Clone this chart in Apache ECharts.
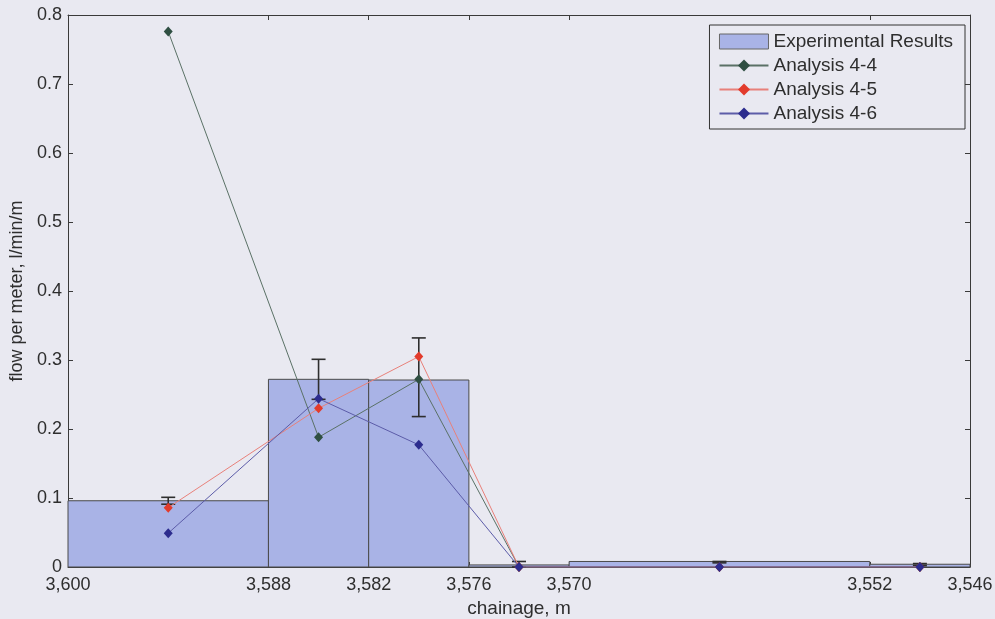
<!DOCTYPE html>
<html>
<head>
<meta charset="utf-8">
<script src="https://cdn.jsdelivr.net/npm/echarts@6/dist/echarts.min.js"></script>
<style>
html,body{margin:0;padding:0;background:#e9e9f1;}
#chart{width:995px;height:619px;}
</style>
</head>
<body>
<div id="chart"></div>
<script>
// ---- data ----
var binEdges = [3600, 3588, 3582, 3576, 3570, 3552, 3546];
var expValues = [0.096, 0.272, 0.271, 0.003, 0.008, 0.004];
var midPoints = [3594, 3585, 3579, 3573, 3561, 3549];
var errLow = [0.091, 0.243, 0.218, 0.000, 0.006, 0.002];
var errHigh = [0.101, 0.301, 0.332, 0.008, 0.008, 0.005];
var analysis44 = [0.776, 0.188, 0.272, 0, 0, 0];
var analysis45 = [0.086, 0.230, 0.305, 0, 0, 0];
var analysis46 = [0.049, 0.244, 0.177, 0, 0, 0];
var xTickValues = [3600, 3588, 3582, 3576, 3570, 3552, 3546];
var seriesNames = ['Experimental Results', 'Analysis 4-4', 'Analysis 4-5', 'Analysis 4-6'];

// ---- build ----
var barData = [];
for (var i = 0; i < expValues.length; i++) {
  barData.push([binEdges[i], binEdges[i + 1], expValues[i]]);
}
var errData = [];
for (var j = 0; j < midPoints.length; j++) {
  errData.push([midPoints[j], errLow[j], errHigh[j]]);
}
function pairs(vals) {
  return midPoints.map(function (m, k) { return [m, vals[k]]; });
}

var textColor = '#2e2e2e';
var fontFam = '"Liberation Sans", Arial, sans-serif';
var barFill = '#a9b3e6';

var chart = echarts.init(document.getElementById('chart'), null, {renderer: 'canvas'});

var xBase = {
  type: 'value', min: 3546, max: 3600, inverse: true,
  splitLine: {show: false},
  axisLine: {show: true, onZero: false, lineStyle: {color: '#3a3a3a', width: 1}}
};
var yBase = {
  type: 'value', min: 0, max: 0.8, interval: 0.1,
  splitLine: {show: false},
  axisLine: {show: true, lineStyle: {color: '#3a3a3a', width: 1}}
};

var option = {
  backgroundColor: '#e9e9f1',
  animation: false,
  textStyle: {fontFamily: fontFam},
  grid: {left: 68, right: 25, top: 15, bottom: 52, containLabel: false, outerBoundsMode: 'none'},
  legend: {
    orient: 'vertical',
    right: 30, top: 25,
    backgroundColor: '#e9e9f1',
    borderColor: '#333', borderWidth: 1, borderRadius: 0,
    padding: [7, 12, 6, 9],
    itemWidth: 49, itemHeight: 15, itemGap: 5,
    textStyle: {fontSize: 19, lineHeight: 18, color: textColor, fontFamily: fontFam},
    data: [
      {name: seriesNames[0], icon: 'rect', itemStyle: {color: barFill, borderColor: '#666', borderWidth: 1}},
      {name: seriesNames[1]},
      {name: seriesNames[2]},
      {name: seriesNames[3]}
    ]
  },
  xAxis: [
    Object.assign({}, xBase, {
      position: 'bottom',
      name: 'chainage, m', nameLocation: 'middle', nameGap: 31,
      nameTextStyle: {fontSize: 19, color: textColor, fontFamily: fontFam},
      axisTick: {show: true, inside: true, length: 5, customValues: xTickValues, lineStyle: {color: '#3a3a3a'}},
      axisLabel: {
        show: true, margin: 9, fontSize: 18, color: textColor, fontFamily: fontFam,
        customValues: xTickValues,
        formatter: function (v) { return v.toLocaleString('en-US'); }
      }
    }),
    Object.assign({}, xBase, {
      position: 'top',
      axisTick: {show: true, inside: true, length: 5, customValues: xTickValues, lineStyle: {color: '#3a3a3a'}},
      axisLabel: {show: false}
    })
  ],
  yAxis: [
    Object.assign({}, yBase, {
      position: 'left',
      name: 'flow per meter, l/min/m', nameLocation: 'middle', nameGap: 40,
      nameTextStyle: {fontSize: 18, color: textColor, fontFamily: fontFam},
      axisTick: {show: true, inside: true, length: 5, lineStyle: {color: '#3a3a3a'}},
      axisLabel: {show: true, margin: 6, fontSize: 18, color: textColor, fontFamily: fontFam,
        formatter: function (v) { return v === 0 ? '0' : String(Math.round(v * 10) / 10); }}
    }),
    Object.assign({}, yBase, {
      position: 'right',
      axisTick: {show: true, inside: true, length: 5, lineStyle: {color: '#3a3a3a'}},
      axisLabel: {show: false}
    })
  ],
  series: [
    {
      name: seriesNames[0],
      type: 'custom',
      xAxisIndex: 0, yAxisIndex: 0,
      z: 1,
      itemStyle: {color: barFill, borderColor: '#555'},
      encode: {x: [0, 1], y: 2},
      data: barData,
      renderItem: function (params, api) {
        var p0 = api.coord([api.value(0), api.value(2)]);
        var p1 = api.coord([api.value(1), 0]);
        return {
          type: 'rect',
          shape: {x: Math.min(p0[0], p1[0]), y: p0[1], width: Math.abs(p1[0] - p0[0]), height: p1[1] - p0[1]},
          style: {fill: barFill, stroke: '#4a4a4a', lineWidth: 1}
        };
      }
    },
    {
      name: 'errorbars',
      type: 'custom',
      xAxisIndex: 0, yAxisIndex: 0,
      z: 3,
      encode: {x: 0, y: [1, 2]},
      data: errData,
      renderItem: function (params, api) {
        var x = api.value(0);
        var lo = api.coord([x, api.value(1)]);
        var hi = api.coord([x, api.value(2)]);
        var hw = 7;
        var st = {stroke: '#2e2e2e', lineWidth: 1.6};
        return {
          type: 'group',
          children: [
            {type: 'line', shape: {x1: lo[0], y1: lo[1], x2: hi[0], y2: hi[1]}, style: st},
            {type: 'line', shape: {x1: lo[0] - hw, y1: lo[1], x2: lo[0] + hw, y2: lo[1]}, style: st},
            {type: 'line', shape: {x1: hi[0] - hw, y1: hi[1], x2: hi[0] + hw, y2: hi[1]}, style: st}
          ]
        };
      }
    },
    {
      name: seriesNames[1], type: 'line', z: 4,
      data: pairs(analysis44),
      symbol: 'diamond', symbolSize: [9, 10], showSymbol: true,
      lineStyle: {color: '#5a7166', width: 1},
      itemStyle: {color: '#2f4f42'}
    },
    {
      name: seriesNames[2], type: 'line', z: 5,
      data: pairs(analysis45),
      symbol: 'diamond', symbolSize: [9, 10],
      lineStyle: {color: '#e8807a', width: 1},
      itemStyle: {color: '#e23b2c'}
    },
    {
      name: seriesNames[3], type: 'line', z: 6,
      data: pairs(analysis46),
      symbol: 'diamond', symbolSize: [9, 10],
      lineStyle: {color: '#5c5ca8', width: 1},
      itemStyle: {color: '#2c2c8e'}
    }
  ]
};
chart.setOption(option);
</script>
</body>
</html>
